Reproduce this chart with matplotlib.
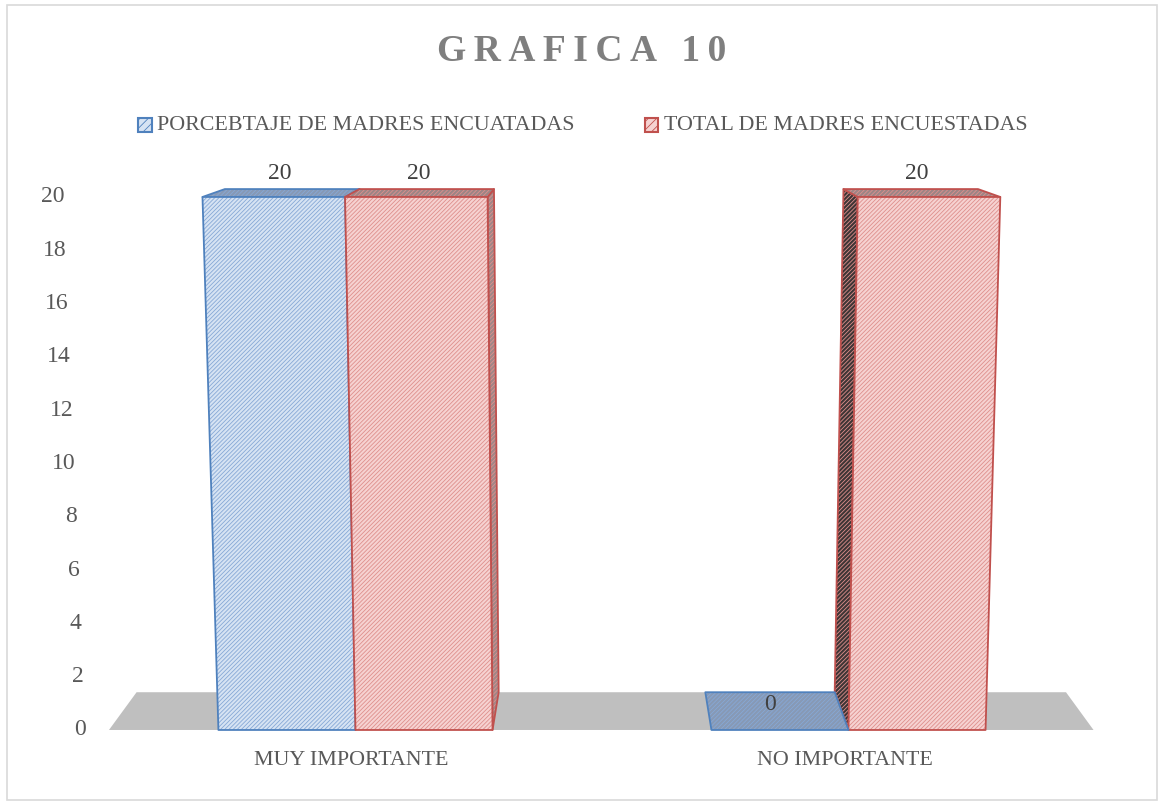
import numpy as np
import matplotlib
matplotlib.use('Agg')
import matplotlib.pyplot as plt
from matplotlib.patches import Polygon, Rectangle

plt.rcParams['font.family'] = ['Liberation Serif', 'DejaVu Serif']
plt.rcParams['hatch.linewidth'] = 0.6

categories = ['MUY IMPORTANTE', 'NO IMPORTANTE']
series_names = ['PORCEBTAJE DE MADRES ENCUATADAS', 'TOTAL DE MADRES ENCUESTADAS']
porcentaje = [20, 0]
total = [20, 20]
yticks = [0, 2, 4, 6, 8, 10, 12, 14, 16, 18, 20]

# colours for each series
styles = [
    dict(face='#d6e3f3', hatch='#86a8d6', edge='#4f81bd', top='#8799b5',
         rside='#8799b5', lside='#3f4a5c'),
    dict(face='#f6d2d1', hatch='#de8f8c', edge='#c0504d', top='#9c8585',
         rside='#a08787', lside='#3e3535'),
]

# simple perspective for the fake 3D look (data units)
XC, TILT = 0.53, 0.002        # front face widens with height
VX, VY, S = 0.5, 25.3, 0.944  # vanishing point / depth scale


def proj(x, y, back=False):
    x1 = XC + (x - XC) * (1 + TILT * y)
    y1 = y
    if back:
        x1 = VX + S * (x1 - VX)
        y1 = VY + S * (y1 - VY)
    return (x1, y1)


def face(ax, pts, fc, hc, ec, z):
    ax.add_patch(Polygon(pts, closed=True, facecolor=fc, edgecolor=hc,
                         hatch='////////', linewidth=0, zorder=z, clip_on=False))
    ax.add_patch(Polygon(pts, closed=True, facecolor='none', edgecolor=ec,
                         linewidth=1.3, zorder=z + 0.1, joinstyle='round', clip_on=False))


fig = plt.figure(figsize=(11.58, 8.02), dpi=100)
fig.patches.append(Rectangle((0.006, 0.003), 0.993, 0.991, transform=fig.transFigure,
                             fill=False, edgecolor='#d9d9d9', linewidth=1.2))
ax = fig.add_axes([0.0941, 0.0898, 0.8515, 0.6646])
ax.set_xlim(-0.5, 1.5)
ax.set_ylim(0, 20)
ax.axis('off')

# floor
fx0, fx1 = -0.5, 1.497
floor = [(fx0, 0), (fx1, 0), proj(fx1, 0, True), proj(fx0, 0, True)]
ax.add_patch(Polygon(floor, closed=True, facecolor='#bfbfbf', edgecolor='none',
                     zorder=1, clip_on=False))

w = 0.278
xs = np.arange(len(categories))
bars = []
for i, vals in enumerate([porcentaje, total]):
    for j, v in enumerate(vals):
        x0 = xs[j] + (i - 1) * w
        bars.append((abs((x0 + w / 2) - VX), x0, v, styles[i]))

# far bars first
bars.sort(key=lambda b: -b[0])
z = 2
for _, x0, v, st in bars:
    x1 = x0 + w
    fl, fr = proj(x0, 0), proj(x1, 0)
    tl, tr = proj(x0, v), proj(x1, v)
    btl, btr = proj(x0, v, True), proj(x1, v, True)
    bbl, bbr = proj(x0, 0, True), proj(x1, 0, True)
    if v > 0:
        if x1 < VX:
            face(ax, [fr, tr, btr, bbr], st['rside'], st['hatch'], st['edge'], z)
        elif x0 > VX:
            face(ax, [fl, tl, btl, bbl], st['lside'], st['hatch'], st['edge'], z)
    face(ax, [tl, tr, btr, btl], st['top'], st['hatch'], st['edge'], z + 0.2)
    if v > 0:
        face(ax, [fl, fr, tr, tl], st['face'], st['hatch'], st['edge'], z + 0.4)
    z += 1

# data labels, centred on the top face
for i, vals in enumerate([porcentaje, total]):
    for j, v in enumerate(vals):
        x0 = xs[j] + (i - 1) * w
        x1 = x0 + w
        mid = (proj(x0, v)[0] + proj(x1, v)[0] + proj(x0, v, True)[0] + proj(x1, v, True)[0]) / 4
        if v > 0:
            ax.text(mid - 0.006, v + 0.5, str(v), ha='center', va='bottom',
                    fontsize=17, color='#404040', zorder=20)
        else:
            ax.text(mid - 0.01, 0.95, str(v), ha='center', va='center',
                    fontsize=17, color='#404040', zorder=20)

# y tick labels follow the slanted axis
for t in yticks:
    ax.text(proj(-0.547, t)[0], t, str(t), ha='right', va='center',
            fontsize=17, color='#595959', clip_on=False)

# category labels
for j, c in enumerate(categories):
    ax.text(xs[j] - 0.008, -1.15, c, ha='center', va='center', fontsize=15.8,
            color='#595959')

# title
fig.text(0.5025, 0.936, '\u2009'.join('GRAFICA 10'), ha='center', va='center',
         fontsize=27, fontweight='bold', color='#7f7f7f')

# legend
for name, st, lx in zip(series_names, styles, [0.1195, 0.557]):
    fig.patches.append(Rectangle((lx, 0.836), 0.0115, 0.0165, transform=fig.transFigure,
                                 facecolor=st['face'], edgecolor=st['edge'], hatch='////',
                                 linewidth=1.5))
    fig.text(lx + 0.0165, 0.844, name, ha='left', va='center', fontsize=15.8,
             color='#595959')

fig.savefig('out.png', dpi=100)
